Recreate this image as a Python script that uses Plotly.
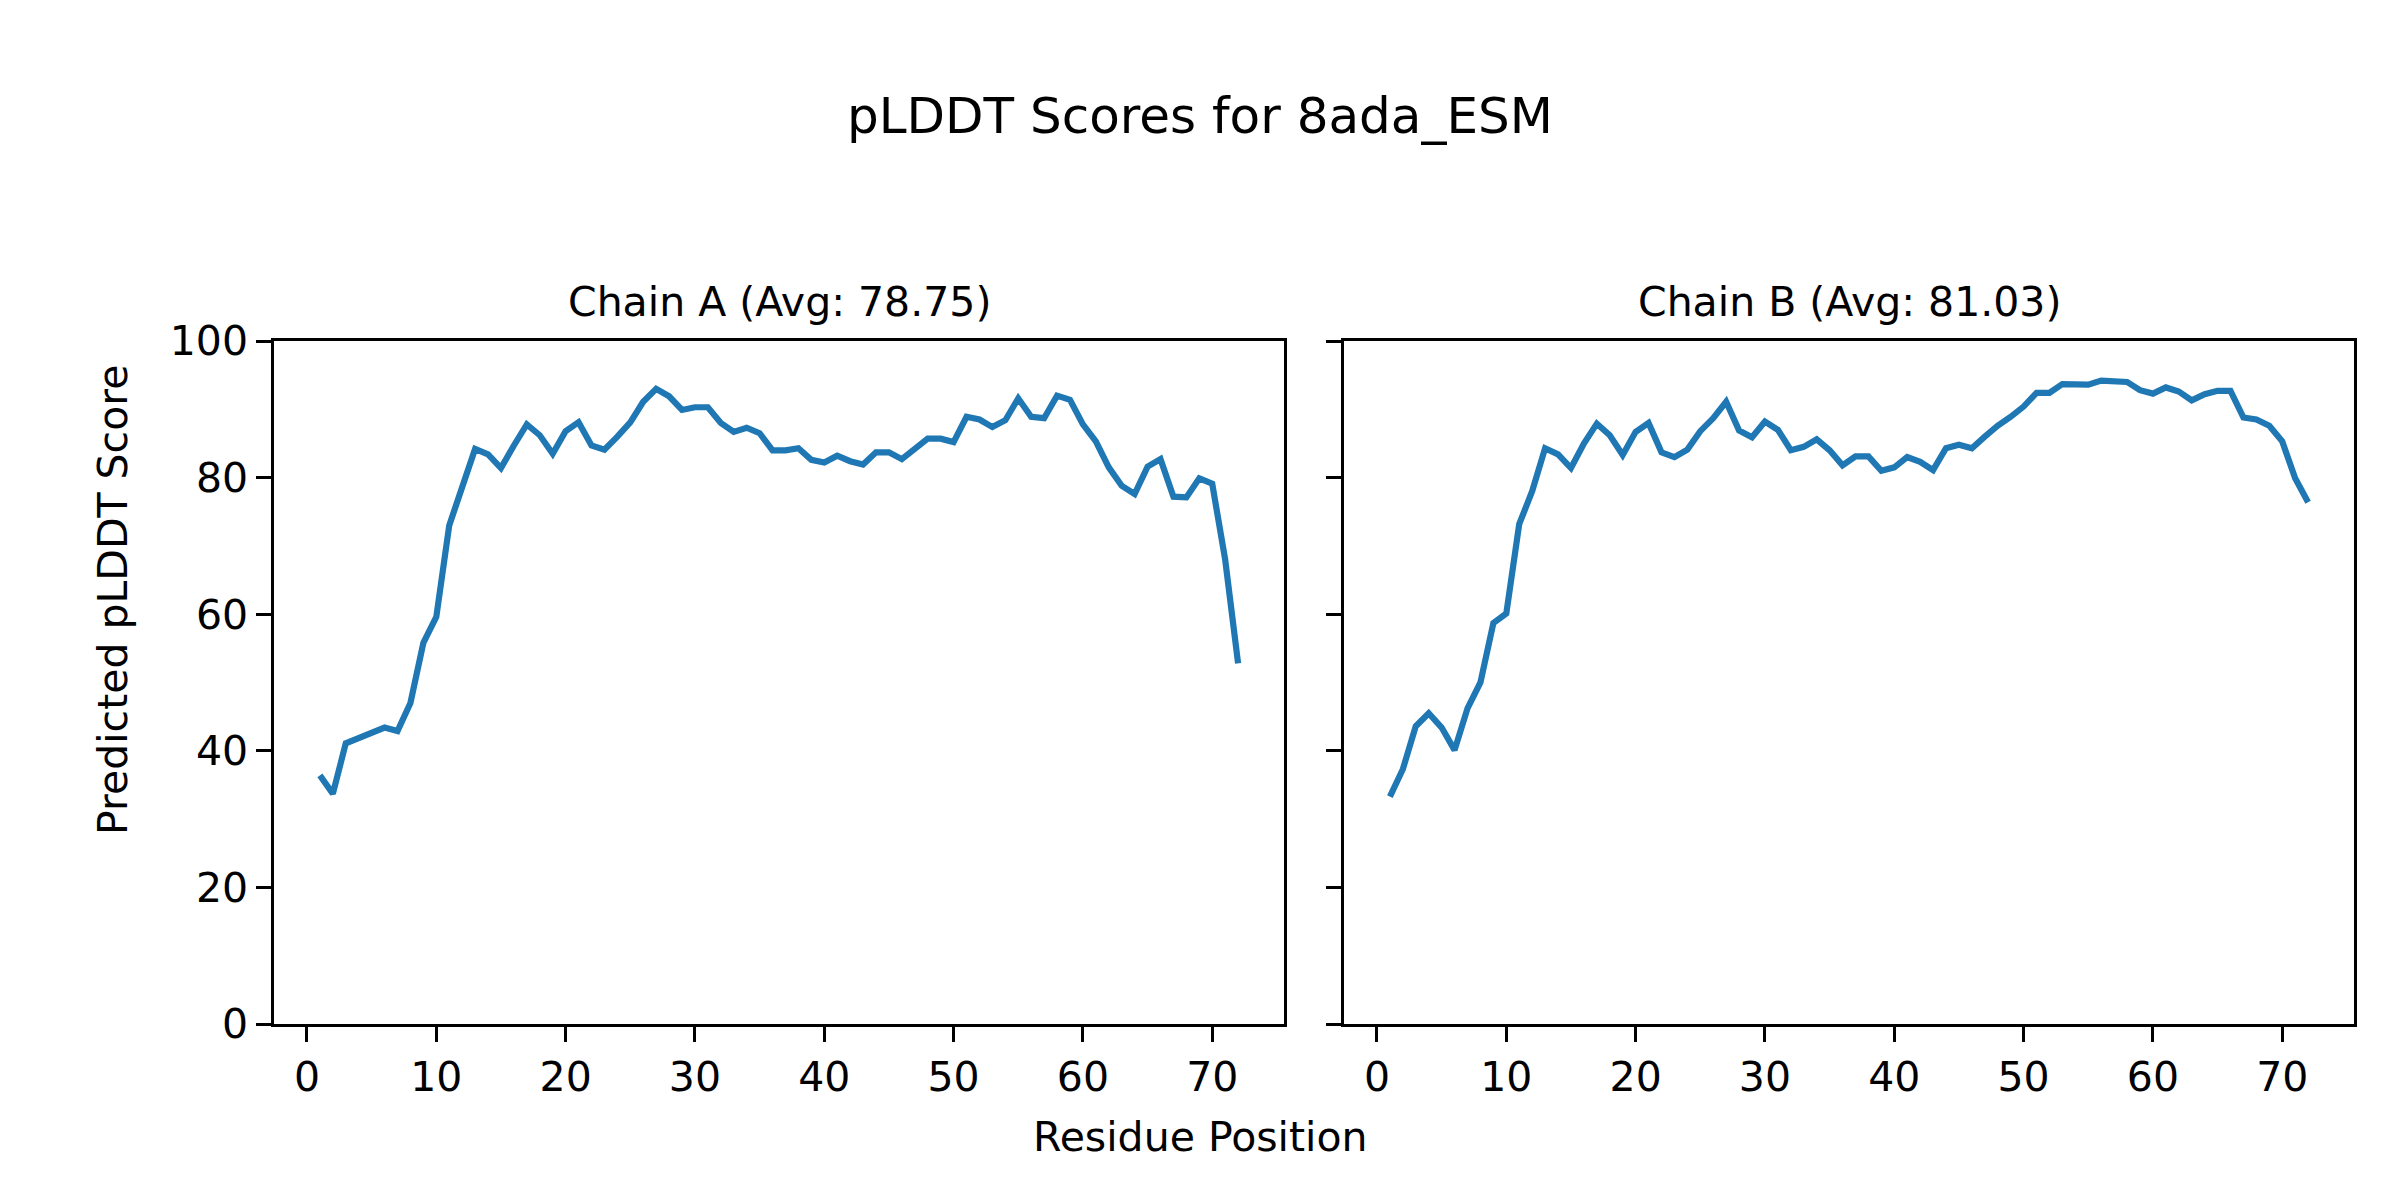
import plotly.graph_objects as go

residues = list(range(1, 73))

chain_a = [36.4, 33.7, 41.1, 41.8, 42.7, 43.4, 42.9, 47.0, 55.8, 59.6,
           73.0, 78.7, 84.2, 83.4, 81.4, 84.7, 87.8, 86.2, 83.5, 86.8,
           88.1, 84.7, 84.1, 86.0, 88.1, 91.1, 93.0, 91.9, 89.9, 90.3,
           90.3, 88.0, 86.7, 87.3, 86.5, 84.0, 84.0, 84.3, 82.6, 82.2,
           83.2, 82.4, 81.9, 83.7, 83.7, 82.7, 84.1, 85.7, 85.7, 85.2,
           88.9, 88.5, 87.4, 88.4, 91.6, 88.9, 88.7, 92.0, 91.4, 87.8,
           85.3, 81.5, 78.8, 77.6, 81.6, 82.7, 77.2, 77.1, 79.9, 79.1,
           68.0, 52.8]

chain_b = [33.3, 37.3, 43.6, 45.5, 43.4, 40.1, 46.2, 50.0, 58.7, 60.1,
           73.2, 78.0, 84.3, 83.4, 81.4, 85.0, 87.9, 86.2, 83.3, 86.7,
           88.0, 83.7, 83.0, 84.1, 86.8, 88.7, 91.1, 86.9, 85.9, 88.2,
           87.0, 84.0, 84.5, 85.6, 84.0, 81.8, 83.1, 83.1, 81.0, 81.5,
           83.0, 82.3, 81.1, 84.3, 84.8, 84.3, 86.0, 87.6, 88.9, 90.4,
           92.4, 92.4, 93.7, 93.6, 93.6, 94.2, 94.2, 94.0, 92.8, 92.3,
           93.2, 92.6, 91.3, 92.2, 92.7, 92.7, 88.8, 88.5, 87.6, 85.3,
           79.9, 76.4]

title = "pLDDT Scores for 8ada_ESM"
subtitles = ["Chain A (Avg: 78.75)", "Chain B (Avg: 81.03)"]
x_ticks = [0, 10, 20, 30, 40, 50, 60, 70]
y_ticks = [0, 20, 40, 60, 80, 100]

FONT = "DejaVu Sans"
W, H = 2400, 1200
OFF = 8  # page body margin offset
color = "#1f77b4"


def px_x(v):
    return (v - OFF) / W


def px_y(v):
    return 1 - (v - OFF) / H


fig = go.Figure()
fig.add_trace(go.Scatter(x=residues, y=chain_a, mode="lines",
                         line=dict(color=color, width=6.2), xaxis="x", yaxis="y",
                         showlegend=False))
fig.add_trace(go.Scatter(x=residues, y=chain_b, mode="lines",
                         line=dict(color=color, width=6.2), xaxis="x2", yaxis="y2",
                         showlegend=False))

dom_left = [px_x(274), px_x(1284)]
dom_right = [px_x(1344), px_x(2354)]
dom_y = [px_y(1024), px_y(341)]

xmin, xmax = 1 - 0.05 * 71, 72 + 0.05 * 71

axis_common = dict(showline=True, linecolor="black", linewidth=3.3, mirror=True,
                   ticks="outside", ticklen=14.6, tickwidth=3.3, tickcolor="black",
                   showgrid=False, zeroline=False, automargin=False,
                   tickfont=dict(family=FONT, size=41, color="black"))

fig.update_layout(
    width=W, height=H,
    template="none",
    margin=dict(l=0, r=0, t=0, b=0, pad=0),
    paper_bgcolor="white", plot_bgcolor="white",
    xaxis=dict(domain=dom_left, range=[xmin, xmax], tickvals=x_ticks,
               anchor="y", **axis_common),
    xaxis2=dict(domain=dom_right, range=[xmin, xmax], tickvals=x_ticks,
                anchor="y2", **axis_common),
    yaxis=dict(domain=dom_y, range=[0, 100], tickvals=y_ticks,
               anchor="x", **axis_common),
    yaxis2=dict(domain=dom_y, range=[0, 100], tickvals=y_ticks,
                anchor="x2", showticklabels=False, matches="y", **axis_common),
    annotations=[
        dict(text=title, x=px_x(1200), y=px_y(116), xref="paper", yref="paper",
             showarrow=False, xanchor="center", yanchor="middle",
             font=dict(family=FONT, size=50, color="black")),
        dict(text=subtitles[0], x=(dom_left[0] + dom_left[1]) / 2, y=px_y(302),
             xref="paper", yref="paper", showarrow=False,
             xanchor="center", yanchor="middle",
             font=dict(family=FONT, size=41, color="black")),
        dict(text=subtitles[1], x=(dom_right[0] + dom_right[1]) / 2, y=px_y(302),
             xref="paper", yref="paper", showarrow=False,
             xanchor="center", yanchor="middle",
             font=dict(family=FONT, size=41, color="black")),
        dict(text="Residue Position", x=px_x(1200), y=px_y(1137),
             xref="paper", yref="paper", showarrow=False,
             xanchor="center", yanchor="middle",
             font=dict(family=FONT, size=41, color="black")),
        dict(text="Predicted pLDDT Score", x=px_x(113), y=px_y(600),
             xref="paper", yref="paper", showarrow=False, textangle=-90,
             xanchor="center", yanchor="middle",
             font=dict(family=FONT, size=41, color="black")),
    ],
)

fig.write_html("out.html")
